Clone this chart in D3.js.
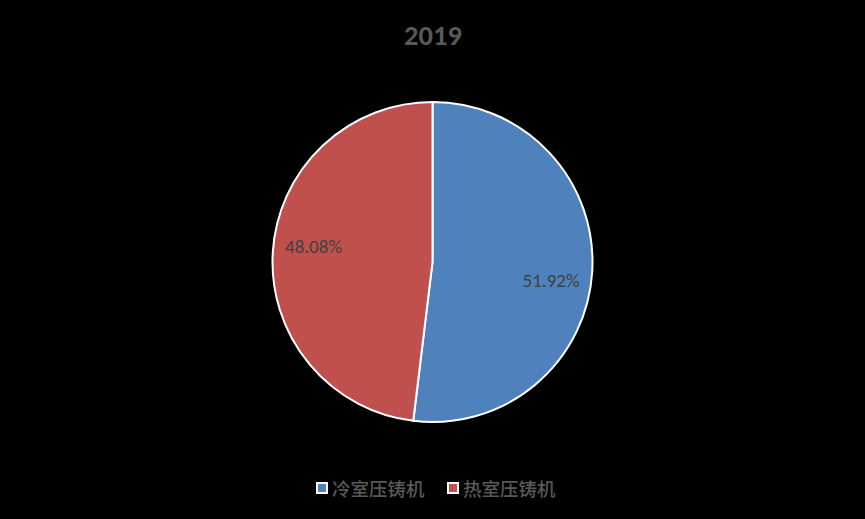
<!DOCTYPE html>
<html><head><meta charset="utf-8">
<script src="https://cdn.jsdelivr.net/npm/d3@7"></script>
<style>body{margin:0;background:#000;}svg{display:block;}</style>
</head><body>
<svg id="c" width="865" height="519"></svg>
<script>
const title = "2019";
const categories = ["冷室压铸机", "热室压铸机"];
const values = [51.92, 48.08];
const labels = ["51.92%", "48.08%"];
const colors = ["#4F81BD", "#C0504D"];

const svg = d3.select("#c");
svg.append("rect").attr("width",865).attr("height",519).attr("fill","#000");
svg.append("text").attr("x",433).attr("y",45).attr("text-anchor","middle")
  .attr("font-family","Carlito, Lato, sans-serif").attr("font-weight","bold")
  .attr("font-size",28.5).attr("fill","#595959").text(title);

const cx=432.5, cy=262, r=160;
const pie = d3.pie().sort(null).value(d=>d)(values);
const arc = d3.arc().innerRadius(0).outerRadius(r);
const g = svg.append("g").attr("transform",`translate(${cx},${cy})`);
g.selectAll("path").data(pie).join("path").attr("d",arc)
  .attr("fill",(d,i)=>colors[i]).attr("stroke","#fff").attr("stroke-width",2);
const shift = [0.095, 0.07];
g.selectAll("text").data(pie).join("text")
  .attr("transform",(d,i)=>{const a=(d.startAngle+d.endAngle)/2+shift[i];const rr=r*0.75;return `translate(${rr*Math.sin(a)},${-rr*Math.cos(a)})`;})
  .attr("text-anchor","middle").attr("dy","0.35em")
  .attr("font-family","Carlito, Lato, sans-serif").attr("font-size",19)
  .attr("fill","#404040").text((d,i)=>labels[i]);

const lg = svg.append("g");
const lx=[317,448];
categories.forEach((c,i)=>{
  lg.append("rect").attr("x",lx[i]).attr("y",483).attr("width",10).attr("height",10)
    .attr("fill",colors[i]).attr("stroke","#fff").attr("stroke-width",2);
  lg.append("text").attr("x",lx[i]+15).attr("y",496)
    .attr("font-family","Noto Sans CJK SC, sans-serif").attr("font-weight",500).attr("font-size",18.5)
    .attr("fill","#595959").text(c);
});
</script>
</body></html>
